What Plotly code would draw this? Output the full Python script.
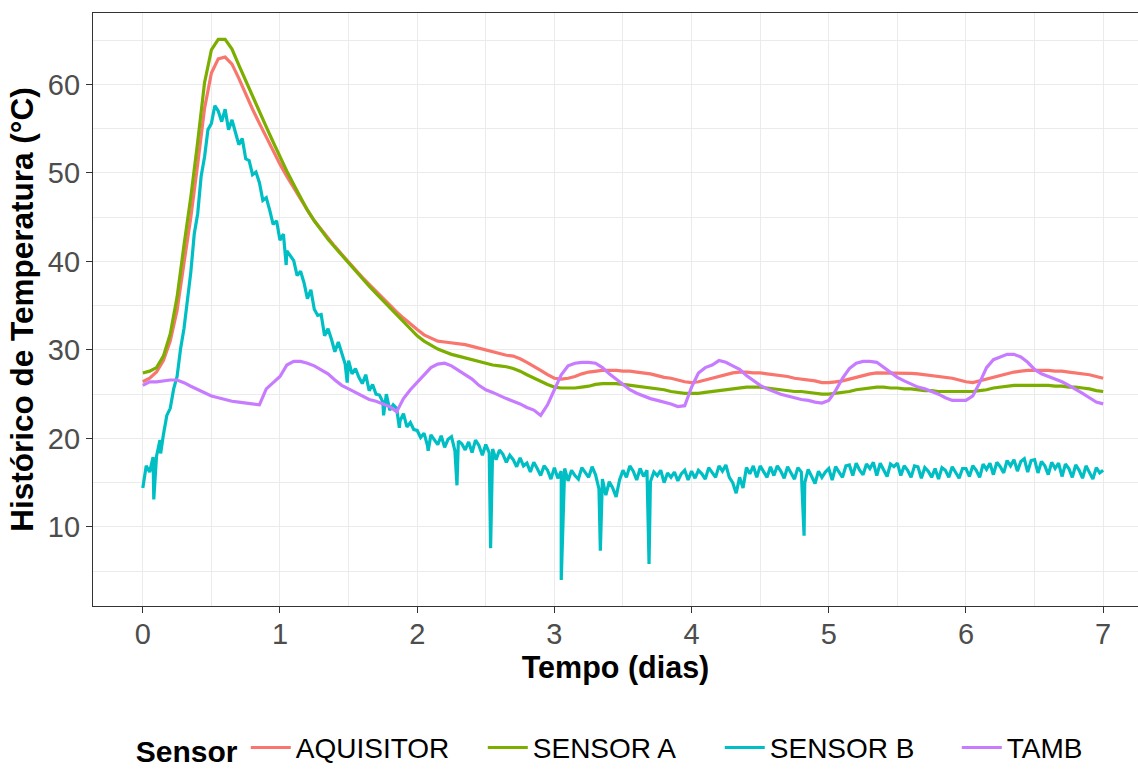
import numpy as np
import plotly.graph_objects as go

# ---------------------------------------------------------------
# Readings (temperature in °C) against elapsed time in days
# ---------------------------------------------------------------
SENSORS = ["AQUISITOR", "SENSOR A", "SENSOR B", "TAMB"]
COLORS = {"AQUISITOR": "#F8766D", "SENSOR A": "#7CAE00",
          "SENSOR B": "#00BFC4", "TAMB": "#C77CFF"}

# sample times (days) for the slow channels: every 0.05 d
t_slow = np.round(np.arange(0, 141) * 0.05, 3)

aquisitor = [
    26.4, 26.8, 27.5, 28.8, 31.0, 34.5, 39.8, 45.0, 51.0, 57.3,
    61.3, 62.9, 63.1, 62.3, 60.7, 58.9, 57.2, 55.6, 54.0, 52.5,
    51.0, 49.6, 48.3, 47.0, 45.8, 44.6, 43.6, 42.6, 41.7, 40.8,
    39.9, 39.0, 38.2, 37.4, 36.6, 35.8, 35.0, 34.3, 33.6, 32.9,
    32.3, 31.7, 31.3, 31.0, 30.9, 30.8, 30.7, 30.6, 30.4, 30.2,
    30.0, 29.8, 29.6, 29.4, 29.3, 29.0, 28.6, 28.2, 27.7, 27.2,
    26.8, 26.7, 26.8, 27.0, 27.3, 27.5, 27.6, 27.7, 27.7, 27.7,
    27.6, 27.6, 27.5, 27.4, 27.3, 27.1, 26.9, 26.8, 26.6, 26.4,
    26.3, 26.4, 26.6, 26.8, 27.0, 27.2, 27.4, 27.5, 27.5, 27.4,
    27.4, 27.3, 27.2, 27.1, 27.0, 26.8, 26.7, 26.6, 26.5, 26.3,
    26.3, 26.4, 26.5, 26.7, 26.9, 27.1, 27.3, 27.4, 27.4, 27.4,
    27.4, 27.4, 27.35, 27.3, 27.2, 27.1, 27.0, 26.9, 26.8, 26.6,
    26.4, 26.3, 26.5, 26.7, 26.9, 27.1, 27.3, 27.5, 27.6, 27.7,
    27.7, 27.7, 27.7, 27.6, 27.6, 27.5, 27.4, 27.3, 27.2, 27.0,
    26.8,
]

sensor_a = [
    27.4, 27.6, 28.0, 29.3, 31.8, 36.0, 41.8, 47.3, 53.5, 60.2,
    63.9, 65.1, 65.1, 64.0, 62.2, 60.4, 58.6, 56.9, 55.2, 53.5,
    51.8, 50.2, 48.7, 47.2, 45.8, 44.6, 43.5, 42.5, 41.6, 40.7,
    39.8, 38.9, 38.0, 37.2, 36.4, 35.6, 34.8, 34.0, 33.2, 32.3,
    31.6, 31.0, 30.5, 30.1, 29.8, 29.5, 29.3, 29.1, 28.9, 28.7,
    28.5, 28.3, 28.2, 28.1, 27.9, 27.6, 27.2, 26.8, 26.4, 26.1,
    25.8, 25.7, 25.7, 25.7, 25.8, 25.9, 26.1, 26.2, 26.2, 26.2,
    26.1, 26.0, 25.9, 25.8, 25.7, 25.6, 25.5, 25.3, 25.2, 25.1,
    25.1, 25.1, 25.2, 25.3, 25.4, 25.5, 25.6, 25.7, 25.8, 25.8,
    25.8, 25.7, 25.6, 25.5, 25.4, 25.3, 25.3, 25.2, 25.1, 25.0,
    25.0, 25.1, 25.2, 25.3, 25.5, 25.6, 25.7, 25.8, 25.8, 25.7,
    25.7, 25.6, 25.6, 25.5, 25.4, 25.4, 25.3, 25.3, 25.3, 25.3,
    25.3, 25.3, 25.4, 25.5, 25.7, 25.8, 25.9, 26.0, 26.0, 26.0,
    26.0, 26.0, 26.0, 25.9, 25.9, 25.8, 25.8, 25.7, 25.6, 25.4,
    25.3,
]

tamb = [
    26.0, 26.4, 26.4, 26.5, 26.6, 26.6, 26.3, 25.9, 25.5, 25.1,
    24.8, 24.6, 24.4, 24.2, 24.1, 24.0, 23.9, 23.8, 25.6, 26.3,
    27.0, 28.3, 28.7, 28.7, 28.5, 28.2, 27.8, 27.3, 26.6, 26.0,
    25.6, 25.2, 24.8, 24.4, 24.2, 23.9, 23.6, 23.0, 24.5, 25.5,
    26.3, 27.2, 28.0, 28.4, 28.5, 28.2, 27.7, 27.2, 26.7, 26.0,
    25.5, 25.2, 24.8, 24.5, 24.2, 23.9, 23.5, 23.2, 22.6, 23.8,
    25.5, 27.2, 28.2, 28.5, 28.6, 28.6, 28.5, 28.0, 27.3, 26.7,
    26.0, 25.5, 25.1, 24.8, 24.5, 24.3, 24.1, 23.9, 23.6, 23.7,
    25.8, 27.4, 28.0, 28.3, 28.8, 28.6, 28.2, 27.8, 27.1, 26.5,
    26.0, 25.6, 25.3, 25.0, 24.8, 24.6, 24.4, 24.3, 24.1, 24.0,
    24.3, 25.4, 26.8, 27.9, 28.5, 28.7, 28.7, 28.6, 28.0, 27.5,
    26.9, 26.5, 26.1, 25.8, 25.6, 25.3, 25.0, 24.6, 24.3, 24.3,
    24.3, 24.8, 26.3, 28.0, 28.9, 29.2, 29.5, 29.5, 29.2, 28.6,
    27.8, 27.3, 27.0, 26.7, 26.4, 26.0, 25.6, 25.1, 24.6, 24.1,
    23.9,
]

# the fast, noisy probe is logged every 0.025 d
t_fast = np.round(np.arange(0, 281) * 0.025, 4)

sensor_b = [
    14.4, 16.9, 16.2, 17.9, 18.0, 19.8, 20.4, 22.6, 23.4, 25.6, 27.0, 30.1, 32.4, 35.6, 38.8, 43.1, 45.4, 49.6, 51.8, 54.9,
    55.6, 57.6, 57.0, 55.8, 57.2, 54.9, 56.0, 54.6, 53.2, 53.9, 51.6, 51.4, 49.8, 50.1, 48.9, 46.9, 47.2, 45.8, 44.2, 44.6,
    42.4, 43.1, 41.2, 40.6, 40.1, 38.4, 38.9, 37.6, 35.8, 36.8, 34.6, 33.9, 34.0, 31.6, 32.4, 31.2, 29.8, 30.9, 29.6, 28.4,
    28.8, 27.3, 27.9, 26.9, 26.2, 27.2, 25.4, 26.1, 25.0, 24.9, 24.1, 25.0, 23.2, 23.8, 23.4, 22.0, 22.8, 21.3, 21.8, 21.0,
    20.9, 20.1, 20.6, 19.2, 20.4, 19.8, 19.3, 20.3, 19.0, 19.9, 20.2, 18.6, 19.7, 19.4, 18.7, 19.6, 18.4, 19.8, 19.2, 18.1,
    19.3, 18.4, 18.8, 17.6, 18.7, 18.2, 17.3, 18.1, 17.6, 16.8, 17.8, 16.9, 17.2, 16.2, 17.3, 16.6, 15.8, 16.9, 16.4, 15.4,
    16.7, 15.5, 16.3, 16.6, 15.2, 16.4, 15.8, 15.4, 16.7, 16.2, 15.6, 16.8, 15.9, 14.3, 15.4, 13.6, 15.1, 14.4, 13.4, 15.3,
    16.4, 15.6, 16.9, 16.3, 15.3, 16.6, 15.7, 16.4, 15.1, 16.2, 15.8, 16.4, 15.0, 16.1, 15.6, 16.2, 15.2, 16.0, 16.4, 15.3,
    16.3, 15.5, 16.4, 16.0, 15.4, 16.7, 16.2, 15.6, 16.9, 16.3, 17.0, 15.6, 15.0, 13.8, 15.6, 14.4, 16.7, 16.0, 16.9, 15.6,
    16.9, 16.2, 15.6, 16.8, 15.8, 16.9, 16.3, 15.5, 16.8, 16.1, 15.4, 16.7, 16.2, 15.0, 16.5, 15.7, 14.9, 16.3, 15.6, 16.2,
    16.6, 15.3, 16.8, 16.2, 15.6, 16.9, 17.0, 15.8, 17.2, 16.4, 15.9, 17.1, 16.6, 17.3, 15.8, 17.2, 16.5, 15.7, 17.1, 16.8,
    17.2, 15.8, 16.9, 16.4, 15.6, 16.9, 16.8, 15.5, 16.7, 16.3, 15.6, 16.6, 15.4, 16.7, 16.4, 15.6, 16.8, 16.2, 15.5, 16.6,
    16.6, 15.7, 16.9, 16.4, 15.6, 17.1, 16.5, 17.2, 15.9, 17.3, 16.8, 16.1, 17.5, 16.9, 17.6, 16.3, 17.4, 17.7, 16.2, 17.5,
    17.6, 16.1, 17.4, 16.9, 15.9, 17.3, 16.6, 17.2, 15.7, 17.1, 16.6, 15.6, 17.0, 16.4, 15.5, 16.9, 16.2, 15.4, 16.7, 16.1,
    16.4,
]

# isolated drop-outs of the fast probe (time in days, reading in °C)
dropout_t = [0.08, 0.13, 1.045, 1.49, 1.755, 1.87, 2.08, 2.29, 2.535, 3.05, 3.335, 3.69, 4.82]
dropout_v = [13.1, 18.3, 39.6, 26.3, 22.6, 21.2, 18.6, 14.7, 7.6, 4.0, 7.3, 5.8, 9.0]

# merge the drop-outs into the fast record in time order
tb = np.concatenate([t_fast, dropout_t])
vb = np.concatenate([sensor_b, dropout_v])
order = np.argsort(tb, kind="stable")
tb, vb = tb[order], vb[order]

series = {
    "AQUISITOR": (t_slow, aquisitor),
    "SENSOR A": (t_slow, sensor_a),
    "SENSOR B": (tb, vb),
    "TAMB": (t_slow, tamb),
}

FONT = "Liberation Sans, Arial, sans-serif"
GRID = "#EBEBEB"
INK = "#333333"

fig = go.Figure()
for name in SENSORS:
    x, y = series[name]
    fig.add_trace(go.Scatter(
        x=x, y=y, mode="lines", name=name,
        line=dict(color=COLORS[name], width=3.2),
    ))

axis_common = dict(
    showline=True, linecolor=INK, linewidth=1.2,
    ticks="outside", ticklen=6, tickwidth=1.1, tickcolor=INK,
    tickfont=dict(family=FONT, size=29, color="#4D4D4D"),
    showgrid=True, gridcolor=GRID, gridwidth=1.4,
    zeroline=False, automargin=False,
)

fig.update_xaxes(
    **axis_common,
    range=[-0.363, 7.254], tick0=0, dtick=1, mirror=True,
    ticklabelstandoff=-4,
    minor=dict(dtick=0.5, showgrid=True, gridcolor=GRID, gridwidth=0.7, ticks=""),
    title=dict(text="Tempo (dias)", standoff=6,
               font=dict(family=FONT, size=30.5, color="black", weight="bold")),
)
fig.update_yaxes(
    **axis_common,
    range=[1.06, 68.08], tick0=0, dtick=10, mirror=False,
    minor=dict(dtick=5, showgrid=True, gridcolor=GRID, gridwidth=0.7, ticks=""),
    title=dict(text="Histórico de Temperatura (°C)", standoff=4,
               font=dict(family=FONT, size=31.5, color="black", weight="bold")),
)

fig.update_layout(
    width=1138, height=769,
    margin=dict(l=93, r=0, t=13, b=163, autoexpand=False),
    plot_bgcolor="white", paper_bgcolor="white",
    font=dict(family=FONT, color="black"),
    legend=dict(
        orientation="h", x=0.039, xanchor="left", y=-0.197, yanchor="top",
        title=dict(text="Sensor", side="left",
                   font=dict(family=FONT, size=30, color="black", weight="bold")),
        font=dict(family=FONT, size=28, color="black"),
        itemwidth=40, entrywidth=182,
        bgcolor="rgba(0,0,0,0)",
    ),
)

fig.write_html("out.html")
